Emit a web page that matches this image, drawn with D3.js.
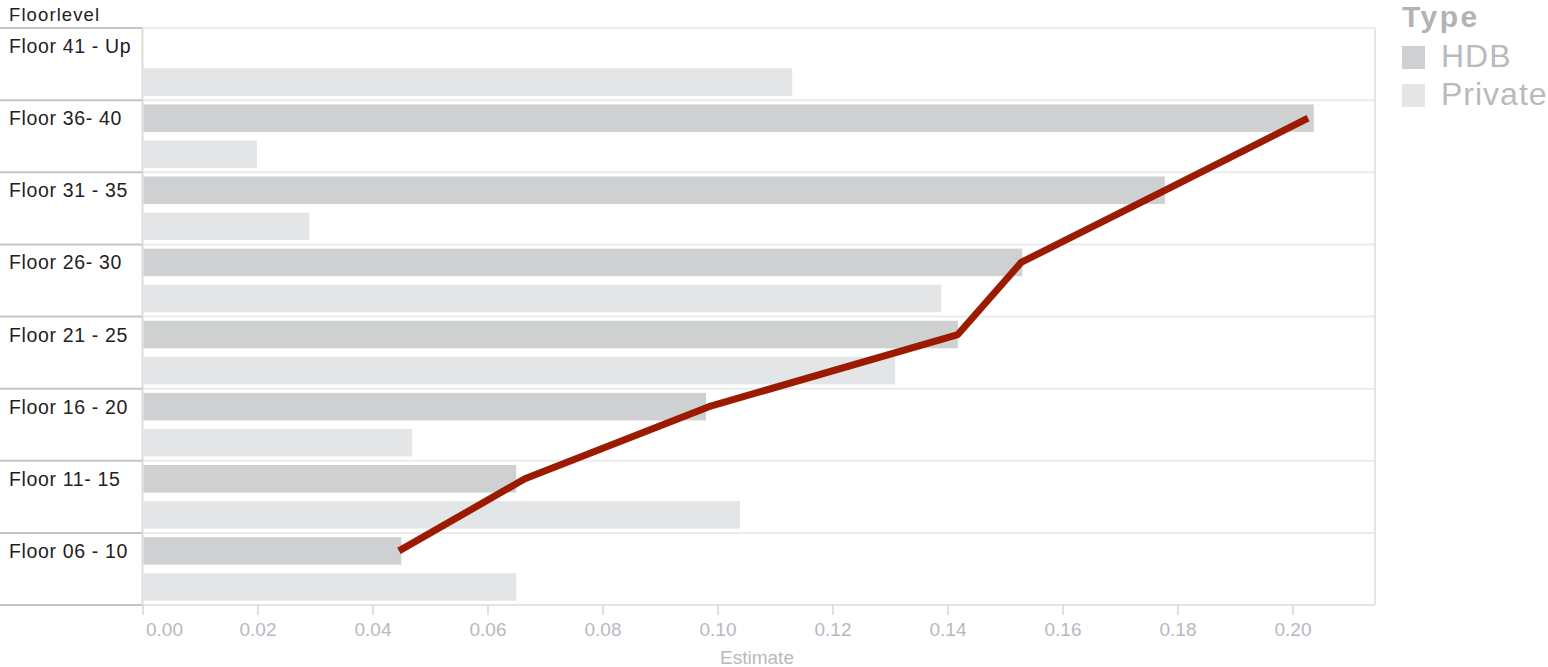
<!DOCTYPE html>
<html>
<head>
<meta charset="utf-8">
<script src="https://cdn.jsdelivr.net/npm/d3@7"></script>
<style>
  html, body { margin: 0; padding: 0; background: #fff; }
  svg { display: block; font-family: "Liberation Sans", Arial, sans-serif; }
</style>
</head>
<body>
<svg id="chart" width="1548" height="667"></svg>
<script>
// Floor bands, top to bottom
const floors = ["Floor 41 - Up", "Floor 36- 40", "Floor 31 - 35", "Floor 26- 30",
                "Floor 21 - 25", "Floor 16 - 20", "Floor 11- 15", "Floor 06 - 10"];
const types = ["HDB", "Private"];
// Estimates per floor band (null = no bar)
const hdbValues     = [null, 0.2037, 0.1778, 0.1530, 0.1418, 0.0980, 0.0650, 0.0450];
const privateValues = [0.1130, 0.0199, 0.0290, 0.1389, 0.1309, 0.0469, 0.1039, 0.0650];
// Trend line drawn across the HDB estimates (bottom band upward)
const trendFloors = ["Floor 06 - 10", "Floor 11- 15", "Floor 16 - 20", "Floor 21 - 25",
                     "Floor 26- 30", "Floor 31 - 35", "Floor 36- 40"];
const trendValues = [0.0446, 0.0665, 0.0985, 0.1418, 0.1528, 0.1778, 0.2027];
const xTicks = [0, 0.02, 0.04, 0.06, 0.08, 0.10, 0.12, 0.14, 0.16, 0.18, 0.20];

const colors = { HDB: "#cfd0d2", Private: "#e4e5e6" };

const svg = d3.select("#chart");
const plotLeft = 142.5, plotRight = 1375, plotTop = 28, plotBottom = 605;

const x = d3.scaleLinear().domain([0, 0.2]).range([plotLeft, 1292.5]);
const y = d3.scaleBand().domain(floors).range([plotTop, plotBottom]).padding(0);
const yInner = d3.scaleBand().domain(types).range([0, y.bandwidth()])
  .paddingInner(0.236).paddingOuter(0.118);

// Row separators inside the plot
svg.append("g").selectAll("line")
  .data(floors)
  .join("line")
  .attr("x1", plotLeft).attr("x2", plotRight)
  .attr("y1", d => y(d)).attr("y2", d => y(d))
  .attr("stroke", "#ebebeb").attr("stroke-width", 2);

// Row separators in the header column
svg.append("g").selectAll("line")
  .data(floors.concat([null]))
  .join("line")
  .attr("x1", 0).attr("x2", plotLeft)
  .attr("y1", d => d === null ? plotBottom : y(d))
  .attr("y2", d => d === null ? plotBottom : y(d))
  .attr("stroke", "#c4c4c4").attr("stroke-width", 2);

// Plot frame: right edge, bottom axis line and left edge
svg.append("line")
  .attr("x1", plotRight).attr("x2", plotRight)
  .attr("y1", plotTop).attr("y2", plotBottom)
  .attr("stroke", "#e6e6e6").attr("stroke-width", 2);
svg.append("line")
  .attr("x1", plotLeft).attr("x2", plotRight)
  .attr("y1", plotBottom).attr("y2", plotBottom)
  .attr("stroke", "#e4e4e4").attr("stroke-width", 2);
svg.append("line")
  .attr("x1", plotLeft).attr("x2", plotLeft)
  .attr("y1", plotTop).attr("y2", plotBottom)
  .attr("stroke", "#dcdcdc").attr("stroke-width", 2);

// Bars
const rows = floors.map((f, i) => ({ floor: f, HDB: hdbValues[i], Private: privateValues[i] }));
const barData = [];
rows.forEach(r => types.forEach(t => { if (r[t] != null) barData.push({ floor: r.floor, type: t, value: r[t] }); }));

svg.append("g").selectAll("rect")
  .data(barData)
  .join("rect")
  .attr("x", x(0) + 1)
  .attr("y", d => y(d.floor) + yInner(d.type))
  .attr("width", d => x(d.value) - x(0) - 1)
  .attr("height", yInner.bandwidth())
  .attr("fill", d => colors[d.type]);

// Floor labels
svg.append("g").selectAll("text")
  .data(floors)
  .join("text")
  .attr("x", 9)
  .attr("y", d => y(d) + 25)
  .attr("font-size", 19.5)
  .attr("letter-spacing", 0.65)
  .attr("fill", "#222")
  .text(d => d);

svg.append("text")
  .attr("x", 9).attr("y", 21)
  .attr("font-size", 18.5)
  .attr("letter-spacing", 1.1)
  .attr("fill", "#222")
  .text("Floorlevel");

// X axis
const xAxis = d3.axisBottom(x).tickValues(xTicks).tickFormat(d3.format(".2f")).tickSize(10).tickPadding(8);
const gx = svg.append("g").attr("transform", `translate(0,${plotBottom})`).call(xAxis);
gx.select(".domain").remove();
gx.selectAll(".tick line").attr("stroke", "#d6d6d6").attr("stroke-width", 1.5);
gx.selectAll(".tick text")
  .attr("fill", "#b6b9bf")
  .attr("font-size", 19)
  .attr("font-family", "'Liberation Sans', Arial, sans-serif");
gx.selectAll(".tick text").filter(d => d === 0)
  .attr("text-anchor", "start").attr("dx", 3);

svg.append("text")
  .attr("x", 757).attr("y", 664)
  .attr("text-anchor", "middle")
  .attr("font-size", 19)
  .attr("fill", "#b6b9bf")
  .text("Estimate");

// Trend line through the HDB bands
const trend = trendFloors.map((f, i) => ({ floor: f, value: trendValues[i] }));
const line = d3.line()
  .x(d => x(d.value))
  .y(d => y(d.floor) + yInner("HDB") + yInner.bandwidth() / 2);
svg.append("path")
  .datum(trend)
  .attr("d", line)
  .attr("fill", "none")
  .attr("stroke", "#9b1a00")
  .attr("stroke-width", 7)
  .attr("stroke-linejoin", "bevel")
  .attr("stroke-linecap", "butt");

// Legend
const legend = svg.append("g").attr("transform", "translate(1402,0)");
legend.append("text")
  .attr("x", 0).attr("y", 27)
  .attr("font-size", 30).attr("font-weight", "bold")
  .attr("letter-spacing", 2.5)
  .attr("fill", "#b3b3b3")
  .text("Type");
const li = legend.selectAll("g.item")
  .data(types)
  .join("g")
  .attr("class", "item")
  .attr("transform", (d, i) => `translate(0,${46 + i * 38})`);
li.append("rect")
  .attr("width", 23).attr("height", 23)
  .attr("fill", d => colors[d]);
li.append("text")
  .attr("x", 39).attr("y", 21)
  .attr("font-size", 32)
  .attr("letter-spacing", 1)
  .attr("fill", "#b8babe")
  .text(d => d);
</script>
</body>
</html>
